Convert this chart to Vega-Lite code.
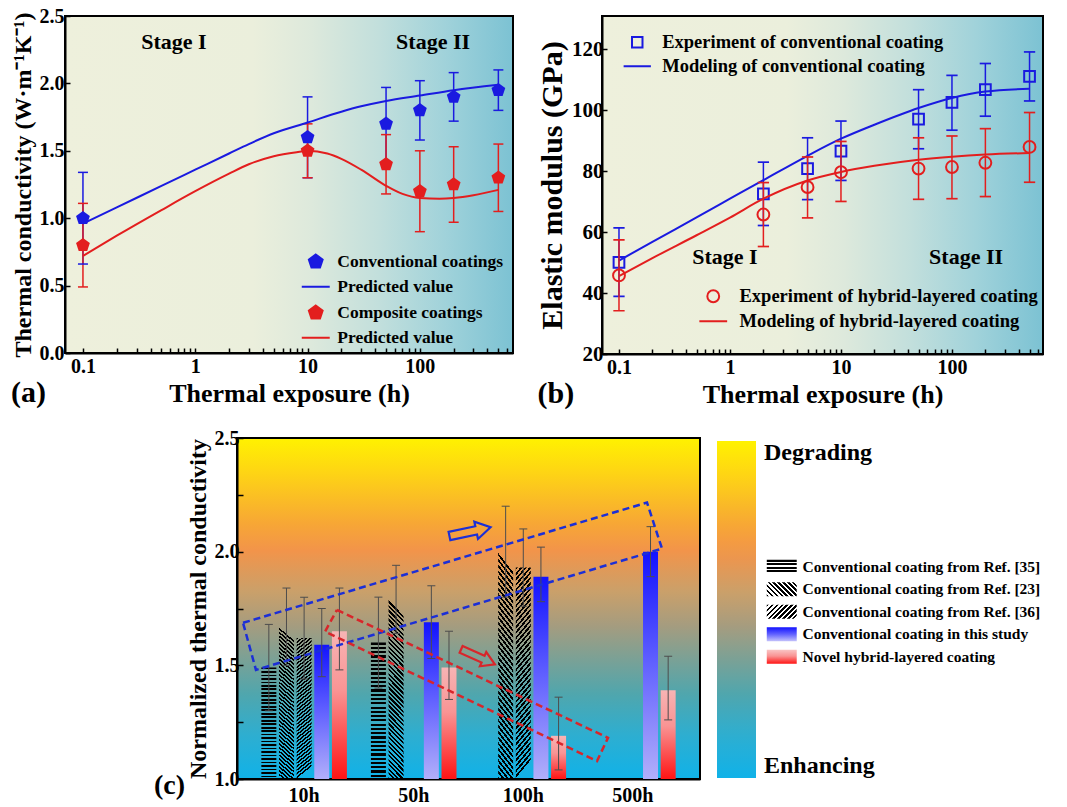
{
"$schema": "https://vega.github.io/schema/vega-lite/v6.json",
"background": "white",
"padding": {"left": 10, "top": 5, "right": 0, "bottom": 0},
"params": [
 {"name": "bgAB", "value": {"gradient":"linear","x1":0,"y1":0,"x2":1,"y2":0,"stops":[{"offset":0,"color":"#eef0dc"},{"offset":0.42,"color":"#ebefdc"},{"offset":0.55,"color":"#dde9dc"},{"offset":0.7,"color":"#c2dfdc"},{"offset":0.85,"color":"#a0d2da"},{"offset":1,"color":"#7cc2d3"}]}},
 {"name": "bgC", "value": {"gradient":"linear","x1":0,"y1":0,"x2":0,"y2":1,"stops":[{"offset":0,"color":"#fff200"},{"offset":0.1,"color":"#fed514"},{"offset":0.25,"color":"#f7a735"},{"offset":0.33,"color":"#f2944a"},{"offset":0.45,"color":"#caa06a"},{"offset":0.55,"color":"#a59c7f"},{"offset":0.65,"color":"#7aa196"},{"offset":0.75,"color":"#50a6ad"},{"offset":0.87,"color":"#2eaed0"},{"offset":1,"color":"#10b2e8"}]}},
 {"name": "g35", "value": {"gradient":"linear","x1":0,"y1":0,"x2":0,"y2":1,"stops":[{"offset":0,"color":"#000"},{"offset":0.0156,"color":"#000"},{"offset":0.0156,"color":"transparent"},{"offset":0.0313,"color":"transparent"},{"offset":0.0313,"color":"#000"},{"offset":0.0469,"color":"#000"},{"offset":0.0469,"color":"transparent"},{"offset":0.0625,"color":"transparent"},{"offset":0.0625,"color":"#000"},{"offset":0.0781,"color":"#000"},{"offset":0.0781,"color":"transparent"},{"offset":0.0938,"color":"transparent"},{"offset":0.0938,"color":"#000"},{"offset":0.1094,"color":"#000"},{"offset":0.1094,"color":"transparent"},{"offset":0.125,"color":"transparent"},{"offset":0.125,"color":"#000"},{"offset":0.1406,"color":"#000"},{"offset":0.1406,"color":"transparent"},{"offset":0.1563,"color":"transparent"},{"offset":0.1563,"color":"#000"},{"offset":0.1719,"color":"#000"},{"offset":0.1719,"color":"transparent"},{"offset":0.1875,"color":"transparent"},{"offset":0.1875,"color":"#000"},{"offset":0.2031,"color":"#000"},{"offset":0.2031,"color":"transparent"},{"offset":0.2188,"color":"transparent"},{"offset":0.2188,"color":"#000"},{"offset":0.2344,"color":"#000"},{"offset":0.2344,"color":"transparent"},{"offset":0.25,"color":"transparent"},{"offset":0.25,"color":"#000"},{"offset":0.2656,"color":"#000"},{"offset":0.2656,"color":"transparent"},{"offset":0.2813,"color":"transparent"},{"offset":0.2813,"color":"#000"},{"offset":0.2969,"color":"#000"},{"offset":0.2969,"color":"transparent"},{"offset":0.3125,"color":"transparent"},{"offset":0.3125,"color":"#000"},{"offset":0.3281,"color":"#000"},{"offset":0.3281,"color":"transparent"},{"offset":0.3438,"color":"transparent"},{"offset":0.3438,"color":"#000"},{"offset":0.3594,"color":"#000"},{"offset":0.3594,"color":"transparent"},{"offset":0.375,"color":"transparent"},{"offset":0.375,"color":"#000"},{"offset":0.3906,"color":"#000"},{"offset":0.3906,"color":"transparent"},{"offset":0.4063,"color":"transparent"},{"offset":0.4063,"color":"#000"},{"offset":0.4219,"color":"#000"},{"offset":0.4219,"color":"transparent"},{"offset":0.4375,"color":"transparent"},{"offset":0.4375,"color":"#000"},{"offset":0.4531,"color":"#000"},{"offset":0.4531,"color":"transparent"},{"offset":0.4688,"color":"transparent"},{"offset":0.4688,"color":"#000"},{"offset":0.4844,"color":"#000"},{"offset":0.4844,"color":"transparent"},{"offset":0.5,"color":"transparent"},{"offset":0.5,"color":"#000"},{"offset":0.5156,"color":"#000"},{"offset":0.5156,"color":"transparent"},{"offset":0.5313,"color":"transparent"},{"offset":0.5313,"color":"#000"},{"offset":0.5469,"color":"#000"},{"offset":0.5469,"color":"transparent"},{"offset":0.5625,"color":"transparent"},{"offset":0.5625,"color":"#000"},{"offset":0.5781,"color":"#000"},{"offset":0.5781,"color":"transparent"},{"offset":0.5938,"color":"transparent"},{"offset":0.5938,"color":"#000"},{"offset":0.6094,"color":"#000"},{"offset":0.6094,"color":"transparent"},{"offset":0.625,"color":"transparent"},{"offset":0.625,"color":"#000"},{"offset":0.6406,"color":"#000"},{"offset":0.6406,"color":"transparent"},{"offset":0.6563,"color":"transparent"},{"offset":0.6563,"color":"#000"},{"offset":0.6719,"color":"#000"},{"offset":0.6719,"color":"transparent"},{"offset":0.6875,"color":"transparent"},{"offset":0.6875,"color":"#000"},{"offset":0.7031,"color":"#000"},{"offset":0.7031,"color":"transparent"},{"offset":0.7188,"color":"transparent"},{"offset":0.7188,"color":"#000"},{"offset":0.7344,"color":"#000"},{"offset":0.7344,"color":"transparent"},{"offset":0.75,"color":"transparent"},{"offset":0.75,"color":"#000"},{"offset":0.7656,"color":"#000"},{"offset":0.7656,"color":"transparent"},{"offset":0.7813,"color":"transparent"},{"offset":0.7813,"color":"#000"},{"offset":0.7969,"color":"#000"},{"offset":0.7969,"color":"transparent"},{"offset":0.8125,"color":"transparent"},{"offset":0.8125,"color":"#000"},{"offset":0.8281,"color":"#000"},{"offset":0.8281,"color":"transparent"},{"offset":0.8438,"color":"transparent"},{"offset":0.8438,"color":"#000"},{"offset":0.8594,"color":"#000"},{"offset":0.8594,"color":"transparent"},{"offset":0.875,"color":"transparent"},{"offset":0.875,"color":"#000"},{"offset":0.8906,"color":"#000"},{"offset":0.8906,"color":"transparent"},{"offset":0.9063,"color":"transparent"},{"offset":0.9063,"color":"#000"},{"offset":0.9219,"color":"#000"},{"offset":0.9219,"color":"transparent"},{"offset":0.9375,"color":"transparent"},{"offset":0.9375,"color":"#000"},{"offset":0.9531,"color":"#000"},{"offset":0.9531,"color":"transparent"},{"offset":0.9688,"color":"transparent"},{"offset":0.9688,"color":"#000"},{"offset":0.9844,"color":"#000"},{"offset":0.9844,"color":"transparent"},{"offset":1,"color":"transparent"}]}},
 {"name": "g23", "value": {"gradient":"linear","x1":0,"y1":1,"x2":0.085,"y2":0,"stops":[{"offset":0,"color":"#000"},{"offset":0.0125,"color":"#000"},{"offset":0.0125,"color":"transparent"},{"offset":0.025,"color":"transparent"},{"offset":0.025,"color":"#000"},{"offset":0.0375,"color":"#000"},{"offset":0.0375,"color":"transparent"},{"offset":0.05,"color":"transparent"},{"offset":0.05,"color":"#000"},{"offset":0.0625,"color":"#000"},{"offset":0.0625,"color":"transparent"},{"offset":0.075,"color":"transparent"},{"offset":0.075,"color":"#000"},{"offset":0.0875,"color":"#000"},{"offset":0.0875,"color":"transparent"},{"offset":0.1,"color":"transparent"},{"offset":0.1,"color":"#000"},{"offset":0.1125,"color":"#000"},{"offset":0.1125,"color":"transparent"},{"offset":0.125,"color":"transparent"},{"offset":0.125,"color":"#000"},{"offset":0.1375,"color":"#000"},{"offset":0.1375,"color":"transparent"},{"offset":0.15,"color":"transparent"},{"offset":0.15,"color":"#000"},{"offset":0.1625,"color":"#000"},{"offset":0.1625,"color":"transparent"},{"offset":0.175,"color":"transparent"},{"offset":0.175,"color":"#000"},{"offset":0.1875,"color":"#000"},{"offset":0.1875,"color":"transparent"},{"offset":0.2,"color":"transparent"},{"offset":0.2,"color":"#000"},{"offset":0.2125,"color":"#000"},{"offset":0.2125,"color":"transparent"},{"offset":0.225,"color":"transparent"},{"offset":0.225,"color":"#000"},{"offset":0.2375,"color":"#000"},{"offset":0.2375,"color":"transparent"},{"offset":0.25,"color":"transparent"},{"offset":0.25,"color":"#000"},{"offset":0.2625,"color":"#000"},{"offset":0.2625,"color":"transparent"},{"offset":0.275,"color":"transparent"},{"offset":0.275,"color":"#000"},{"offset":0.2875,"color":"#000"},{"offset":0.2875,"color":"transparent"},{"offset":0.3,"color":"transparent"},{"offset":0.3,"color":"#000"},{"offset":0.3125,"color":"#000"},{"offset":0.3125,"color":"transparent"},{"offset":0.325,"color":"transparent"},{"offset":0.325,"color":"#000"},{"offset":0.3375,"color":"#000"},{"offset":0.3375,"color":"transparent"},{"offset":0.35,"color":"transparent"},{"offset":0.35,"color":"#000"},{"offset":0.3625,"color":"#000"},{"offset":0.3625,"color":"transparent"},{"offset":0.375,"color":"transparent"},{"offset":0.375,"color":"#000"},{"offset":0.3875,"color":"#000"},{"offset":0.3875,"color":"transparent"},{"offset":0.4,"color":"transparent"},{"offset":0.4,"color":"#000"},{"offset":0.4125,"color":"#000"},{"offset":0.4125,"color":"transparent"},{"offset":0.425,"color":"transparent"},{"offset":0.425,"color":"#000"},{"offset":0.4375,"color":"#000"},{"offset":0.4375,"color":"transparent"},{"offset":0.45,"color":"transparent"},{"offset":0.45,"color":"#000"},{"offset":0.4625,"color":"#000"},{"offset":0.4625,"color":"transparent"},{"offset":0.475,"color":"transparent"},{"offset":0.475,"color":"#000"},{"offset":0.4875,"color":"#000"},{"offset":0.4875,"color":"transparent"},{"offset":0.5,"color":"transparent"},{"offset":0.5,"color":"#000"},{"offset":0.5125,"color":"#000"},{"offset":0.5125,"color":"transparent"},{"offset":0.525,"color":"transparent"},{"offset":0.525,"color":"#000"},{"offset":0.5375,"color":"#000"},{"offset":0.5375,"color":"transparent"},{"offset":0.55,"color":"transparent"},{"offset":0.55,"color":"#000"},{"offset":0.5625,"color":"#000"},{"offset":0.5625,"color":"transparent"},{"offset":0.575,"color":"transparent"},{"offset":0.575,"color":"#000"},{"offset":0.5875,"color":"#000"},{"offset":0.5875,"color":"transparent"},{"offset":0.6,"color":"transparent"},{"offset":0.6,"color":"#000"},{"offset":0.6125,"color":"#000"},{"offset":0.6125,"color":"transparent"},{"offset":0.625,"color":"transparent"},{"offset":0.625,"color":"#000"},{"offset":0.6375,"color":"#000"},{"offset":0.6375,"color":"transparent"},{"offset":0.65,"color":"transparent"},{"offset":0.65,"color":"#000"},{"offset":0.6625,"color":"#000"},{"offset":0.6625,"color":"transparent"},{"offset":0.675,"color":"transparent"},{"offset":0.675,"color":"#000"},{"offset":0.6875,"color":"#000"},{"offset":0.6875,"color":"transparent"},{"offset":0.7,"color":"transparent"},{"offset":0.7,"color":"#000"},{"offset":0.7125,"color":"#000"},{"offset":0.7125,"color":"transparent"},{"offset":0.725,"color":"transparent"},{"offset":0.725,"color":"#000"},{"offset":0.7375,"color":"#000"},{"offset":0.7375,"color":"transparent"},{"offset":0.75,"color":"transparent"},{"offset":0.75,"color":"#000"},{"offset":0.7625,"color":"#000"},{"offset":0.7625,"color":"transparent"},{"offset":0.775,"color":"transparent"},{"offset":0.775,"color":"#000"},{"offset":0.7875,"color":"#000"},{"offset":0.7875,"color":"transparent"},{"offset":0.8,"color":"transparent"},{"offset":0.8,"color":"#000"},{"offset":0.8125,"color":"#000"},{"offset":0.8125,"color":"transparent"},{"offset":0.825,"color":"transparent"},{"offset":0.825,"color":"#000"},{"offset":0.8375,"color":"#000"},{"offset":0.8375,"color":"transparent"},{"offset":0.85,"color":"transparent"},{"offset":0.85,"color":"#000"},{"offset":0.8625,"color":"#000"},{"offset":0.8625,"color":"transparent"},{"offset":0.875,"color":"transparent"},{"offset":0.875,"color":"#000"},{"offset":0.8875,"color":"#000"},{"offset":0.8875,"color":"transparent"},{"offset":0.9,"color":"transparent"},{"offset":0.9,"color":"#000"},{"offset":0.9125,"color":"#000"},{"offset":0.9125,"color":"transparent"},{"offset":0.925,"color":"transparent"},{"offset":0.925,"color":"#000"},{"offset":0.9375,"color":"#000"},{"offset":0.9375,"color":"transparent"},{"offset":0.95,"color":"transparent"},{"offset":0.95,"color":"#000"},{"offset":0.9625,"color":"#000"},{"offset":0.9625,"color":"transparent"},{"offset":0.975,"color":"transparent"},{"offset":0.975,"color":"#000"},{"offset":0.9875,"color":"#000"},{"offset":0.9875,"color":"transparent"},{"offset":1,"color":"transparent"}]}},
 {"name": "g36", "value": {"gradient":"linear","x1":0,"y1":0,"x2":0.085,"y2":1,"stops":[{"offset":0,"color":"#000"},{"offset":0.0125,"color":"#000"},{"offset":0.0125,"color":"transparent"},{"offset":0.025,"color":"transparent"},{"offset":0.025,"color":"#000"},{"offset":0.0375,"color":"#000"},{"offset":0.0375,"color":"transparent"},{"offset":0.05,"color":"transparent"},{"offset":0.05,"color":"#000"},{"offset":0.0625,"color":"#000"},{"offset":0.0625,"color":"transparent"},{"offset":0.075,"color":"transparent"},{"offset":0.075,"color":"#000"},{"offset":0.0875,"color":"#000"},{"offset":0.0875,"color":"transparent"},{"offset":0.1,"color":"transparent"},{"offset":0.1,"color":"#000"},{"offset":0.1125,"color":"#000"},{"offset":0.1125,"color":"transparent"},{"offset":0.125,"color":"transparent"},{"offset":0.125,"color":"#000"},{"offset":0.1375,"color":"#000"},{"offset":0.1375,"color":"transparent"},{"offset":0.15,"color":"transparent"},{"offset":0.15,"color":"#000"},{"offset":0.1625,"color":"#000"},{"offset":0.1625,"color":"transparent"},{"offset":0.175,"color":"transparent"},{"offset":0.175,"color":"#000"},{"offset":0.1875,"color":"#000"},{"offset":0.1875,"color":"transparent"},{"offset":0.2,"color":"transparent"},{"offset":0.2,"color":"#000"},{"offset":0.2125,"color":"#000"},{"offset":0.2125,"color":"transparent"},{"offset":0.225,"color":"transparent"},{"offset":0.225,"color":"#000"},{"offset":0.2375,"color":"#000"},{"offset":0.2375,"color":"transparent"},{"offset":0.25,"color":"transparent"},{"offset":0.25,"color":"#000"},{"offset":0.2625,"color":"#000"},{"offset":0.2625,"color":"transparent"},{"offset":0.275,"color":"transparent"},{"offset":0.275,"color":"#000"},{"offset":0.2875,"color":"#000"},{"offset":0.2875,"color":"transparent"},{"offset":0.3,"color":"transparent"},{"offset":0.3,"color":"#000"},{"offset":0.3125,"color":"#000"},{"offset":0.3125,"color":"transparent"},{"offset":0.325,"color":"transparent"},{"offset":0.325,"color":"#000"},{"offset":0.3375,"color":"#000"},{"offset":0.3375,"color":"transparent"},{"offset":0.35,"color":"transparent"},{"offset":0.35,"color":"#000"},{"offset":0.3625,"color":"#000"},{"offset":0.3625,"color":"transparent"},{"offset":0.375,"color":"transparent"},{"offset":0.375,"color":"#000"},{"offset":0.3875,"color":"#000"},{"offset":0.3875,"color":"transparent"},{"offset":0.4,"color":"transparent"},{"offset":0.4,"color":"#000"},{"offset":0.4125,"color":"#000"},{"offset":0.4125,"color":"transparent"},{"offset":0.425,"color":"transparent"},{"offset":0.425,"color":"#000"},{"offset":0.4375,"color":"#000"},{"offset":0.4375,"color":"transparent"},{"offset":0.45,"color":"transparent"},{"offset":0.45,"color":"#000"},{"offset":0.4625,"color":"#000"},{"offset":0.4625,"color":"transparent"},{"offset":0.475,"color":"transparent"},{"offset":0.475,"color":"#000"},{"offset":0.4875,"color":"#000"},{"offset":0.4875,"color":"transparent"},{"offset":0.5,"color":"transparent"},{"offset":0.5,"color":"#000"},{"offset":0.5125,"color":"#000"},{"offset":0.5125,"color":"transparent"},{"offset":0.525,"color":"transparent"},{"offset":0.525,"color":"#000"},{"offset":0.5375,"color":"#000"},{"offset":0.5375,"color":"transparent"},{"offset":0.55,"color":"transparent"},{"offset":0.55,"color":"#000"},{"offset":0.5625,"color":"#000"},{"offset":0.5625,"color":"transparent"},{"offset":0.575,"color":"transparent"},{"offset":0.575,"color":"#000"},{"offset":0.5875,"color":"#000"},{"offset":0.5875,"color":"transparent"},{"offset":0.6,"color":"transparent"},{"offset":0.6,"color":"#000"},{"offset":0.6125,"color":"#000"},{"offset":0.6125,"color":"transparent"},{"offset":0.625,"color":"transparent"},{"offset":0.625,"color":"#000"},{"offset":0.6375,"color":"#000"},{"offset":0.6375,"color":"transparent"},{"offset":0.65,"color":"transparent"},{"offset":0.65,"color":"#000"},{"offset":0.6625,"color":"#000"},{"offset":0.6625,"color":"transparent"},{"offset":0.675,"color":"transparent"},{"offset":0.675,"color":"#000"},{"offset":0.6875,"color":"#000"},{"offset":0.6875,"color":"transparent"},{"offset":0.7,"color":"transparent"},{"offset":0.7,"color":"#000"},{"offset":0.7125,"color":"#000"},{"offset":0.7125,"color":"transparent"},{"offset":0.725,"color":"transparent"},{"offset":0.725,"color":"#000"},{"offset":0.7375,"color":"#000"},{"offset":0.7375,"color":"transparent"},{"offset":0.75,"color":"transparent"},{"offset":0.75,"color":"#000"},{"offset":0.7625,"color":"#000"},{"offset":0.7625,"color":"transparent"},{"offset":0.775,"color":"transparent"},{"offset":0.775,"color":"#000"},{"offset":0.7875,"color":"#000"},{"offset":0.7875,"color":"transparent"},{"offset":0.8,"color":"transparent"},{"offset":0.8,"color":"#000"},{"offset":0.8125,"color":"#000"},{"offset":0.8125,"color":"transparent"},{"offset":0.825,"color":"transparent"},{"offset":0.825,"color":"#000"},{"offset":0.8375,"color":"#000"},{"offset":0.8375,"color":"transparent"},{"offset":0.85,"color":"transparent"},{"offset":0.85,"color":"#000"},{"offset":0.8625,"color":"#000"},{"offset":0.8625,"color":"transparent"},{"offset":0.875,"color":"transparent"},{"offset":0.875,"color":"#000"},{"offset":0.8875,"color":"#000"},{"offset":0.8875,"color":"transparent"},{"offset":0.9,"color":"transparent"},{"offset":0.9,"color":"#000"},{"offset":0.9125,"color":"#000"},{"offset":0.9125,"color":"transparent"},{"offset":0.925,"color":"transparent"},{"offset":0.925,"color":"#000"},{"offset":0.9375,"color":"#000"},{"offset":0.9375,"color":"transparent"},{"offset":0.95,"color":"transparent"},{"offset":0.95,"color":"#000"},{"offset":0.9625,"color":"#000"},{"offset":0.9625,"color":"transparent"},{"offset":0.975,"color":"transparent"},{"offset":0.975,"color":"#000"},{"offset":0.9875,"color":"#000"},{"offset":0.9875,"color":"transparent"},{"offset":1,"color":"transparent"}]}},
 {"name": "gBl", "value": {"gradient":"linear","x1":0,"y1":0,"x2":0,"y2":1,"stops":[{"offset":0,"color":"#1212ff"},{"offset":0.5,"color":"#6262ff"},{"offset":1,"color":"#b2affa"}]}},
 {"name": "gRd", "value": {"gradient":"linear","x1":0,"y1":0,"x2":0,"y2":1,"stops":[{"offset":0,"color":"#f7b4b4"},{"offset":0.4,"color":"#f99494"},{"offset":1,"color":"#ff1414"}]}},
 {"name": "g35L", "value": {"gradient":"linear","x1":0,"y1":0,"x2":0,"y2":1,"stops":[{"offset":0,"color":"#000"},{"offset":0.15,"color":"#000"},{"offset":0.15,"color":"transparent"},{"offset":0.25,"color":"transparent"},{"offset":0.25,"color":"#000"},{"offset":0.4,"color":"#000"},{"offset":0.4,"color":"transparent"},{"offset":0.5,"color":"transparent"},{"offset":0.5,"color":"#000"},{"offset":0.65,"color":"#000"},{"offset":0.65,"color":"transparent"},{"offset":0.75,"color":"transparent"},{"offset":0.75,"color":"#000"},{"offset":0.9,"color":"#000"},{"offset":0.9,"color":"transparent"},{"offset":1,"color":"transparent"}]}},
 {"name": "g23L", "value": {"gradient":"linear","x1":0,"y1":1,"x2":1.2,"y2":0.44,"stops":[{"offset":0,"color":"#000"},{"offset":0.0556,"color":"#000"},{"offset":0.0556,"color":"transparent"},{"offset":0.1111,"color":"transparent"},{"offset":0.1111,"color":"#000"},{"offset":0.1667,"color":"#000"},{"offset":0.1667,"color":"transparent"},{"offset":0.2222,"color":"transparent"},{"offset":0.2222,"color":"#000"},{"offset":0.2778,"color":"#000"},{"offset":0.2778,"color":"transparent"},{"offset":0.3333,"color":"transparent"},{"offset":0.3333,"color":"#000"},{"offset":0.3889,"color":"#000"},{"offset":0.3889,"color":"transparent"},{"offset":0.4444,"color":"transparent"},{"offset":0.4444,"color":"#000"},{"offset":0.5,"color":"#000"},{"offset":0.5,"color":"transparent"},{"offset":0.5556,"color":"transparent"},{"offset":0.5556,"color":"#000"},{"offset":0.6111,"color":"#000"},{"offset":0.6111,"color":"transparent"},{"offset":0.6667,"color":"transparent"},{"offset":0.6667,"color":"#000"},{"offset":0.7222,"color":"#000"},{"offset":0.7222,"color":"transparent"},{"offset":0.7778,"color":"transparent"},{"offset":0.7778,"color":"#000"},{"offset":0.8333,"color":"#000"},{"offset":0.8333,"color":"transparent"},{"offset":0.8889,"color":"transparent"},{"offset":0.8889,"color":"#000"},{"offset":0.9444,"color":"#000"},{"offset":0.9444,"color":"transparent"},{"offset":1,"color":"transparent"}]}},
 {"name": "g36L", "value": {"gradient":"linear","x1":0,"y1":0,"x2":1.2,"y2":0.56,"stops":[{"offset":0,"color":"#000"},{"offset":0.0556,"color":"#000"},{"offset":0.0556,"color":"transparent"},{"offset":0.1111,"color":"transparent"},{"offset":0.1111,"color":"#000"},{"offset":0.1667,"color":"#000"},{"offset":0.1667,"color":"transparent"},{"offset":0.2222,"color":"transparent"},{"offset":0.2222,"color":"#000"},{"offset":0.2778,"color":"#000"},{"offset":0.2778,"color":"transparent"},{"offset":0.3333,"color":"transparent"},{"offset":0.3333,"color":"#000"},{"offset":0.3889,"color":"#000"},{"offset":0.3889,"color":"transparent"},{"offset":0.4444,"color":"transparent"},{"offset":0.4444,"color":"#000"},{"offset":0.5,"color":"#000"},{"offset":0.5,"color":"transparent"},{"offset":0.5556,"color":"transparent"},{"offset":0.5556,"color":"#000"},{"offset":0.6111,"color":"#000"},{"offset":0.6111,"color":"transparent"},{"offset":0.6667,"color":"transparent"},{"offset":0.6667,"color":"#000"},{"offset":0.7222,"color":"#000"},{"offset":0.7222,"color":"transparent"},{"offset":0.7778,"color":"transparent"},{"offset":0.7778,"color":"#000"},{"offset":0.8333,"color":"#000"},{"offset":0.8333,"color":"transparent"},{"offset":0.8889,"color":"transparent"},{"offset":0.8889,"color":"#000"},{"offset":0.9444,"color":"#000"},{"offset":0.9444,"color":"transparent"},{"offset":1,"color":"transparent"}]}},
 {"name": "gBlL", "value": {"gradient":"linear","x1":0,"y1":0,"x2":0,"y2":1,"stops":[{"offset":0,"color":"#1212ff"},{"offset":0.5,"color":"#6262ff"},{"offset":1,"color":"#c4c2fb"}]}},
 {"name": "gRdL", "value": {"gradient":"linear","x1":0,"y1":0,"x2":0,"y2":1,"stops":[{"offset":0,"color":"#f9c4c4"},{"offset":0.45,"color":"#f99494"},{"offset":1,"color":"#ff1414"}]}}
],
"config": {
 "font": "Liberation Serif",
 "view": {"stroke": "black", "strokeWidth": 2},
 "axis": {"grid": false, "labelFont": "Liberation Serif", "labelFontWeight": "bold", "labelColor": "black", "titleFont": "Liberation Serif", "titleFontWeight": "bold", "titleColor": "black", "domainColor": "black", "domainWidth": 2, "tickColor": "black", "tickWidth": 1.5, "labelOverlap": false, "labelFlush": false},
 "legend": {"labelFont": "Liberation Serif", "labelFontWeight": "bold", "labelColor": "black", "padding": 0, "labelLimit": 0},
 "title": {"font": "Liberation Serif", "fontWeight": "bold", "color": "black"}
},
"spacing": 17,
"resolve": {"scale": {"color": "independent", "fill": "independent", "stroke": "independent"}, "legend": {"color": "independent", "fill": "independent", "stroke": "independent"}},
"vconcat": [
 {
  "spacing": 22,
  "resolve": {"scale": {"color": "independent"}, "legend": {"color": "independent"}},
  "hconcat": [
   {
    "width": 448, "height": 337,
    "view": {"stroke": "black", "strokeWidth": 2, "fill": {"expr": "bgAB"}},
    "title": {"text": "(a)", "orient": "bottom", "anchor": "start", "frame": "bounds", "offset": -28, "fontSize": 30},
    "layer": [
     {
      "data": {"values": [
       {"t":0.1,"v":1.0,"lo":0.66,"hi":1.34,"series":"Conventional coatings"},
       {"t":10,"v":1.6,"lo":1.3,"hi":1.9,"series":"Conventional coatings"},
       {"t":50,"v":1.7,"lo":1.42,"hi":1.97,"series":"Conventional coatings"},
       {"t":100,"v":1.8,"lo":1.58,"hi":2.02,"series":"Conventional coatings"},
       {"t":200,"v":1.9,"lo":1.72,"hi":2.08,"series":"Conventional coatings"},
       {"t":500,"v":1.95,"lo":1.8,"hi":2.1,"series":"Conventional coatings"},
       {"t":0.1,"v":0.8,"lo":0.49,"hi":1.11,"series":"Composite coatings"},
       {"t":10,"v":1.5,"lo":1.3,"hi":1.7,"series":"Composite coatings"},
       {"t":50,"v":1.4,"lo":1.18,"hi":1.62,"series":"Composite coatings"},
       {"t":100,"v":1.2,"lo":0.9,"hi":1.5,"series":"Composite coatings"},
       {"t":200,"v":1.25,"lo":0.97,"hi":1.53,"series":"Composite coatings"},
       {"t":500,"v":1.3,"lo":1.05,"hi":1.55,"series":"Composite coatings"}
      ]},
      "layer": [
       {"mark": {"type": "rule", "strokeWidth": 1.5},
        "encoding": {
         "x": {"field": "t", "type": "quantitative", "scale": {"type": "log", "domain": [0.0692, 675], "nice": false}, "title": "Thermal exposure (h)",
               "axis": {"values": [0.1,0.2,0.3,0.4,0.5,0.6,0.7,0.8,0.9,1,2,3,4,5,6,7,8,9,10,20,30,40,50,60,70,80,90,100,200,300,400,500,600], "labelExpr": "datum.value==0.1?'0.1':datum.value==1?'1':datum.value==10?'10':datum.value==100?'100':''", "tickSize": -5, "labelFontSize": 20, "titleFontSize": 26, "labelPadding": 8, "titlePadding": 4}},
         "y": {"field": "lo", "type": "quantitative", "scale": {"domain": [0, 2.5], "nice": false}, "title": "Thermal conductivity (W·m⁻¹K⁻¹)",
               "axis": {"values": [0,0.25,0.5,0.75,1,1.25,1.5,1.75,2,2.25,2.5], "format": ".1f", "labelExpr": "round(datum.value*100)%50==0 ? datum.label : ''", "tickSize": -5, "labelFontSize": 20, "titleFontSize": 24, "labelPadding": 6, "titlePadding": 4}},
         "y2": {"field": "hi"},
         "color": {"field": "series", "type": "nominal", "scale": {"domain": ["Conventional coatings","Predicted value (conventional)","Composite coatings","Predicted value (composite)"], "range": ["#1a1ae0","#1a1ae0","#e31e1e","#e31e1e"]}}
        }},
       {"mark": {"type": "tick", "orient": "horizontal", "size": 10, "thickness": 1.5, "opacity": 1},
        "encoding": {
         "x": {"field": "t", "type": "quantitative", "scale": {"type": "log"}},
         "y": {"field": "lo", "type": "quantitative"},
         "color": {"field": "series", "type": "nominal"}
        }},
       {"mark": {"type": "tick", "orient": "horizontal", "size": 10, "thickness": 1.5, "opacity": 1},
        "encoding": {
         "x": {"field": "t", "type": "quantitative", "scale": {"type": "log"}},
         "y": {"field": "hi", "type": "quantitative"},
         "color": {"field": "series", "type": "nominal"}
        }}
      ]
     },
     {
      "data": {"values": [
       {"t":0.1,"v":0.96,"series":"Predicted value (conventional)"},
       {"t":0.2,"v":1.08,"series":"Predicted value (conventional)"},
       {"t":0.5,"v":1.24,"series":"Predicted value (conventional)"},
       {"t":1,"v":1.36,"series":"Predicted value (conventional)"},
       {"t":2,"v":1.48,"series":"Predicted value (conventional)"},
       {"t":3,"v":1.55,"series":"Predicted value (conventional)"},
       {"t":5,"v":1.63,"series":"Predicted value (conventional)"},
       {"t":10,"v":1.71,"series":"Predicted value (conventional)"},
       {"t":20,"v":1.79,"series":"Predicted value (conventional)"},
       {"t":30,"v":1.83,"series":"Predicted value (conventional)"},
       {"t":50,"v":1.87,"series":"Predicted value (conventional)"},
       {"t":100,"v":1.91,"series":"Predicted value (conventional)"},
       {"t":200,"v":1.95,"series":"Predicted value (conventional)"},
       {"t":500,"v":1.99,"series":"Predicted value (conventional)"},
       {"t":0.1,"v":0.72,"series":"Predicted value (composite)"},
       {"t":0.2,"v":0.87,"series":"Predicted value (composite)"},
       {"t":0.5,"v":1.06,"series":"Predicted value (composite)"},
       {"t":1,"v":1.2,"series":"Predicted value (composite)"},
       {"t":2,"v":1.33,"series":"Predicted value (composite)"},
       {"t":3,"v":1.4,"series":"Predicted value (composite)"},
       {"t":5,"v":1.46,"series":"Predicted value (composite)"},
       {"t":8,"v":1.49,"series":"Predicted value (composite)"},
       {"t":10,"v":1.5,"series":"Predicted value (composite)"},
       {"t":15,"v":1.48,"series":"Predicted value (composite)"},
       {"t":20,"v":1.44,"series":"Predicted value (composite)"},
       {"t":30,"v":1.36,"series":"Predicted value (composite)"},
       {"t":50,"v":1.24,"series":"Predicted value (composite)"},
       {"t":70,"v":1.18,"series":"Predicted value (composite)"},
       {"t":100,"v":1.15,"series":"Predicted value (composite)"},
       {"t":150,"v":1.145,"series":"Predicted value (composite)"},
       {"t":200,"v":1.15,"series":"Predicted value (composite)"},
       {"t":300,"v":1.17,"series":"Predicted value (composite)"},
       {"t":500,"v":1.21,"series":"Predicted value (composite)"}
      ]},
      "mark": {"type": "line", "interpolate": "monotone", "strokeWidth": 2},
      "encoding": {
       "x": {"field": "t", "type": "quantitative", "scale": {"type": "log"}},
       "y": {"field": "v", "type": "quantitative"},
       "color": {"field": "series", "type": "nominal"}
      }
     },
     {
      "data": {"values": [
       {"t":0.1,"v":1.0,"series":"Conventional coatings"},
       {"t":10,"v":1.6,"series":"Conventional coatings"},
       {"t":50,"v":1.7,"series":"Conventional coatings"},
       {"t":100,"v":1.8,"series":"Conventional coatings"},
       {"t":200,"v":1.9,"series":"Conventional coatings"},
       {"t":500,"v":1.95,"series":"Conventional coatings"},
       {"t":0.1,"v":0.8,"series":"Composite coatings"},
       {"t":10,"v":1.5,"series":"Composite coatings"},
       {"t":50,"v":1.4,"series":"Composite coatings"},
       {"t":100,"v":1.2,"series":"Composite coatings"},
       {"t":200,"v":1.25,"series":"Composite coatings"},
       {"t":500,"v":1.3,"series":"Composite coatings"}
      ]},
      "mark": {"type": "point", "shape": "M0,-1L0.951,-0.309L0.588,0.809L-0.588,0.809L-0.951,-0.309Z", "filled": true, "size": 210, "opacity": 1},
      "encoding": {
       "x": {"field": "t", "type": "quantitative", "scale": {"type": "log"}},
       "y": {"field": "v", "type": "quantitative"},
       "color": {"field": "series", "type": "nominal",
        "legend": {"orient": "none", "legendX": 242, "legendY": 237, "title": null, "labelFontSize": 17.5, "symbolSize": 210, "labelOffset": 12.75, "rowPadding": 5,
         "labelExpr": "indexof(datum.label,'Predicted')>=0 ? 'Predicted value' : datum.label",
         "symbolType": {"expr": "indexof(datum.value,'Predicted')>=0 ? 'M-1.93,0L1.93,0' : 'M0,-1L0.951,-0.309L0.588,0.809L-0.588,0.809L-0.951,-0.309Z'"},
         "symbolStrokeColor": {"expr": "(datum.value=='Conventional coatings'||datum.value=='Predicted value (conventional)') ? '#1a1ae0' : '#e31e1e'"},
         "symbolStrokeWidth": 2, "symbolOpacity": 1}}
      }
     },
     {
      "data": {"values": [{"t":0.646,"v":2.31,"label":"Stage I"},{"t":131,"v":2.31,"label":"Stage II"}]},
      "mark": {"type": "text", "fontSize": 22, "fontWeight": "bold", "font": "Liberation Serif", "color": "black"},
      "encoding": {
       "x": {"field": "t", "type": "quantitative", "scale": {"type": "log"}},
       "y": {"field": "v", "type": "quantitative"},
       "text": {"field": "label"}
      }
     }
    ]
   },
   {
    "width": 441, "height": 338,
    "view": {"stroke": "black", "strokeWidth": 2, "fill": {"expr": "bgAB"}},
    "title": {"text": "(b)", "orient": "bottom", "anchor": "start", "frame": "bounds", "offset": -28, "fontSize": 30},
    "resolve": {"scale": {"color": "independent"}, "legend": {"color": "independent"}},
    "layer": [
     {
      "layer": [
       {
        "data": {"values": [
         {"t":0.1,"v":50.1,"lo":38.9,"hi":61.4,"series":"Experiment of conventional coating"},
         {"t":2,"v":72.6,"lo":62.2,"hi":83.0,"series":"Experiment of conventional coating"},
         {"t":5,"v":80.9,"lo":70.7,"hi":91.0,"series":"Experiment of conventional coating"},
         {"t":10,"v":86.6,"lo":77.0,"hi":96.5,"series":"Experiment of conventional coating"},
         {"t":50,"v":97.1,"lo":87.4,"hi":106.8,"series":"Experiment of conventional coating"},
         {"t":100,"v":102.6,"lo":93.5,"hi":111.5,"series":"Experiment of conventional coating"},
         {"t":200,"v":106.8,"lo":98.1,"hi":115.4,"series":"Experiment of conventional coating"},
         {"t":500,"v":111.2,"lo":103.1,"hi":119.2,"series":"Experiment of conventional coating"}
        ]},
        "layer": [
         {"mark": {"type": "rule", "strokeWidth": 1.5},
          "encoding": {
           "x": {"field": "t", "type": "quantitative", "scale": {"type": "log", "domain": [0.0703, 661], "nice": false}, "title": "Thermal exposure (h)",
                 "axis": {"values": [0.1,0.2,0.3,0.4,0.5,0.6,0.7,0.8,0.9,1,2,3,4,5,6,7,8,9,10,20,30,40,50,60,70,80,90,100,200,300,400,500,600], "labelExpr": "datum.value==0.1?'0.1':datum.value==1?'1':datum.value==10?'10':datum.value==100?'100':''", "tickSize": -5, "labelFontSize": 20, "titleFontSize": 26, "labelPadding": 8, "titlePadding": 4}},
           "y": {"field": "lo", "type": "quantitative", "scale": {"domain": [20, 131], "nice": false, "zero": false}, "title": "Elastic modulus (GPa)",
                 "axis": {"values": [20,30,40,50,60,70,80,90,100,110,120,131], "labelExpr": "datum.value==131 ? ' ' : (datum.value%20==0 ? datum.label : '')", "tickSize": -5, "labelFontSize": 21, "titleFontSize": 30, "labelPadding": 4, "titlePadding": 4}},
           "y2": {"field": "hi"},
           "color": {"field": "series", "type": "nominal", "scale": {"domain": ["Experiment of conventional coating","Modeling of conventional coating"], "range": ["#1a1ae0","#1a1ae0"]}}
          }},
         {"mark": {"type": "tick", "orient": "horizontal", "size": 10, "thickness": 0.4, "filled": false, "strokeWidth": 1.3, "opacity": 1},
          "encoding": {
           "x": {"field": "t", "type": "quantitative", "scale": {"type": "log"}},
           "y": {"field": "lo", "type": "quantitative"},
           "color": {"field": "series", "type": "nominal"}
          }},
         {"mark": {"type": "tick", "orient": "horizontal", "size": 10, "thickness": 0.4, "filled": false, "strokeWidth": 1.3, "opacity": 1},
          "encoding": {
           "x": {"field": "t", "type": "quantitative", "scale": {"type": "log"}},
           "y": {"field": "hi", "type": "quantitative"},
           "color": {"field": "series", "type": "nominal"}
          }},
         {"mark": {"type": "point", "shape": "square", "filled": false, "size": 115, "strokeWidth": 2, "opacity": 1},
          "encoding": {
           "x": {"field": "t", "type": "quantitative", "scale": {"type": "log"}},
           "y": {"field": "v", "type": "quantitative"},
           "color": {"field": "series", "type": "nominal",
            "legend": {"orient": "none", "legendX": 26, "legendY": 17, "title": null, "labelFontSize": 18.5, "symbolSize": 110, "labelOffset": 15.7, "rowPadding": 5,
             "symbolType": {"expr": "indexof(datum.value,'Modeling')>=0 ? 'M-2.6,0L2.6,0' : 'square'"},
             "symbolFillColor": "transparent", "symbolStrokeWidth": 2, "symbolOpacity": 1}}
          }}
        ]
       },
       {
        "data": {"values": [
         {"t":0.1,"v":50.7,"series":"Modeling of conventional coating"},
         {"t":0.2,"v":56.8,"series":"Modeling of conventional coating"},
         {"t":0.5,"v":64.9,"series":"Modeling of conventional coating"},
         {"t":1,"v":71.0,"series":"Modeling of conventional coating"},
         {"t":2,"v":77.1,"series":"Modeling of conventional coating"},
         {"t":5,"v":85.1,"series":"Modeling of conventional coating"},
         {"t":10,"v":90.7,"series":"Modeling of conventional coating"},
         {"t":20,"v":95.3,"series":"Modeling of conventional coating"},
         {"t":50,"v":100.8,"series":"Modeling of conventional coating"},
         {"t":100,"v":104.1,"series":"Modeling of conventional coating"},
         {"t":200,"v":106.2,"series":"Modeling of conventional coating"},
         {"t":500,"v":107.1,"series":"Modeling of conventional coating"}
        ]},
        "mark": {"type": "line", "interpolate": "monotone", "strokeWidth": 2},
        "encoding": {
         "x": {"field": "t", "type": "quantitative", "scale": {"type": "log"}},
         "y": {"field": "v", "type": "quantitative"},
         "color": {"field": "series", "type": "nominal"}
        }
       }
      ]
     },
     {
      "layer": [
       {
        "data": {"values": [
         {"t":0.1,"v":45.8,"lo":34.2,"hi":57.5,"series":"Experiment of hybrid-layered coating"},
         {"t":2,"v":65.8,"lo":55.3,"hi":76.3,"series":"Experiment of hybrid-layered coating"},
         {"t":5,"v":74.8,"lo":64.7,"hi":84.7,"series":"Experiment of hybrid-layered coating"},
         {"t":10,"v":79.7,"lo":70.1,"hi":89.8,"series":"Experiment of hybrid-layered coating"},
         {"t":50,"v":80.9,"lo":70.8,"hi":91.0,"series":"Experiment of hybrid-layered coating"},
         {"t":100,"v":81.4,"lo":71.0,"hi":91.6,"series":"Experiment of hybrid-layered coating"},
         {"t":200,"v":82.8,"lo":71.7,"hi":94.0,"series":"Experiment of hybrid-layered coating"},
         {"t":500,"v":88.0,"lo":76.4,"hi":99.3,"series":"Experiment of hybrid-layered coating"}
        ]},
        "layer": [
         {"mark": {"type": "rule", "strokeWidth": 1.5},
          "encoding": {
           "x": {"field": "t", "type": "quantitative", "scale": {"type": "log"}},
           "y": {"field": "lo", "type": "quantitative"},
           "y2": {"field": "hi"},
           "color": {"field": "series", "type": "nominal", "scale": {"domain": ["Experiment of hybrid-layered coating","Modeling of hybrid-layered coating"], "range": ["#e31e1e","#e31e1e"]}}
          }},
         {"mark": {"type": "tick", "orient": "horizontal", "size": 10, "thickness": 0.4, "filled": false, "strokeWidth": 1.3, "opacity": 1},
          "encoding": {
           "x": {"field": "t", "type": "quantitative", "scale": {"type": "log"}},
           "y": {"field": "lo", "type": "quantitative"},
           "color": {"field": "series", "type": "nominal"}
          }},
         {"mark": {"type": "tick", "orient": "horizontal", "size": 10, "thickness": 0.4, "filled": false, "strokeWidth": 1.3, "opacity": 1},
          "encoding": {
           "x": {"field": "t", "type": "quantitative", "scale": {"type": "log"}},
           "y": {"field": "hi", "type": "quantitative"},
           "color": {"field": "series", "type": "nominal"}
          }},
         {"mark": {"type": "point", "shape": "circle", "filled": false, "size": 140, "strokeWidth": 2, "opacity": 1},
          "encoding": {
           "x": {"field": "t", "type": "quantitative", "scale": {"type": "log"}},
           "y": {"field": "v", "type": "quantitative"},
           "color": {"field": "series", "type": "nominal",
            "legend": {"orient": "none", "legendX": 102, "legendY": 271, "title": null, "labelFontSize": 18.5, "symbolSize": 140, "labelOffset": 17, "rowPadding": 5,
             "symbolType": {"expr": "indexof(datum.value,'Modeling')>=0 ? 'M-2.35,0L2.35,0' : 'circle'"},
             "symbolFillColor": "transparent", "symbolStrokeWidth": 2, "symbolOpacity": 1}}
          }}
        ]
       },
       {
        "data": {"values": [
         {"t":0.1,"v":45.6,"series":"Modeling of hybrid-layered coating"},
         {"t":0.2,"v":51.5,"series":"Modeling of hybrid-layered coating"},
         {"t":0.5,"v":59.0,"series":"Modeling of hybrid-layered coating"},
         {"t":1,"v":64.8,"series":"Modeling of hybrid-layered coating"},
         {"t":2,"v":71.0,"series":"Modeling of hybrid-layered coating"},
         {"t":5,"v":77.0,"series":"Modeling of hybrid-layered coating"},
         {"t":10,"v":79.8,"series":"Modeling of hybrid-layered coating"},
         {"t":20,"v":81.8,"series":"Modeling of hybrid-layered coating"},
         {"t":50,"v":83.8,"series":"Modeling of hybrid-layered coating"},
         {"t":100,"v":84.8,"series":"Modeling of hybrid-layered coating"},
         {"t":200,"v":85.5,"series":"Modeling of hybrid-layered coating"},
         {"t":500,"v":86.0,"series":"Modeling of hybrid-layered coating"}
        ]},
        "mark": {"type": "line", "interpolate": "monotone", "strokeWidth": 2},
        "encoding": {
         "x": {"field": "t", "type": "quantitative", "scale": {"type": "log"}},
         "y": {"field": "v", "type": "quantitative"},
         "color": {"field": "series", "type": "nominal"}
        }
       }
      ]
     },
     {
      "data": {"values": [{"t":0.9,"v":51.7,"label":"Stage I"},{"t":134,"v":51.7,"label":"Stage II"}]},
      "mark": {"type": "text", "fontSize": 22, "fontWeight": "bold", "font": "Liberation Serif", "color": "black"},
      "encoding": {
       "x": {"field": "t", "type": "quantitative", "scale": {"type": "log"}},
       "y": {"field": "v", "type": "quantitative"},
       "text": {"field": "label"}
      }
     }
    ]
   }
  ]
 },
 {
  "spacing": 0,
  "resolve": {"scale": {"color": "independent", "fill": "independent", "stroke": "independent"}, "legend": {"color": "independent", "fill": "independent", "stroke": "independent"}},
  "hconcat": [
   {"width": 120, "height": 351, "view": {"stroke": null},
    "title": {"text": "(c)", "orient": "bottom", "anchor": "end", "frame": "group", "offset": -17, "fontSize": 28},
    "data": {"values": [{"k": 0}]}, "mark": {"type": "point", "opacity": 0}, "encoding": {}},
   {
    "width": 463, "height": 341,
    "view": {"stroke": "black", "strokeWidth": 2, "fill": {"expr": "bgC"}},
    "resolve": {"scale": {"x": "independent", "fill": "independent", "stroke": "independent"}, "legend": {"fill": "independent", "stroke": "independent"}},
    "layer": [
     {
      "data": {"values": [
       {"time":"10h","series":"Conventional coating from Ref. [35]","v":1.49,"lo":1.30,"hi":1.68},
       {"time":"10h","series":"Conventional coating from Ref. [23]","v":1.67,"lo":1.50,"hi":1.84},
       {"time":"10h","series":"Conventional coating from Ref. [36]","v":1.62,"lo":1.44,"hi":1.80},
       {"time":"10h","series":"Conventional coating in this study","v":1.59,"lo":1.45,"hi":1.75},
       {"time":"10h","series":"Novel hybrid-layered coating","v":1.65,"lo":1.48,"hi":1.84},
       {"time":"50h","series":"Conventional coating from Ref. [35]","v":1.60,"lo":1.40,"hi":1.80},
       {"time":"50h","series":"Conventional coating from Ref. [23]","v":1.79,"lo":1.64,"hi":1.94},
       {"time":"50h","series":"Conventional coating in this study","v":1.69,"lo":1.53,"hi":1.85},
       {"time":"50h","series":"Novel hybrid-layered coating","v":1.49,"lo":1.35,"hi":1.65},
       {"time":"100h","series":"Conventional coating from Ref. [23]","v":2.00,"lo":1.80,"hi":2.20},
       {"time":"100h","series":"Conventional coating from Ref. [36]","v":1.93,"lo":1.76,"hi":2.10},
       {"time":"100h","series":"Conventional coating in this study","v":1.89,"lo":1.78,"hi":2.02},
       {"time":"100h","series":"Novel hybrid-layered coating","v":1.19,"lo":1.04,"hi":1.36},
       {"time":"500h","series":"Conventional coating in this study","v":2.00,"lo":1.89,"hi":2.11},
       {"time":"500h","series":"Novel hybrid-layered coating","v":1.39,"lo":1.26,"hi":1.54}
      ]},
      "layer": [
       {"mark": {"type": "bar"},
        "encoding": {
         "x": {"field": "time", "type": "nominal", "sort": ["10h","50h","100h","500h"], "scale": {"paddingInner": 0.195, "paddingOuter": 0.21}, "title": null, "axis": {"title": null, "labelFontSize": 20, "ticks": false, "labelPadding": 6, "labelAngle": 0}},
         "xOffset": {"field": "series", "type": "nominal", "scale": {"domain": ["Conventional coating from Ref. [35]","Conventional coating from Ref. [23]","Conventional coating from Ref. [36]","Conventional coating in this study","Novel hybrid-layered coating"], "paddingInner": 0.15, "paddingOuter": 0.075}},
         "y": {"field": "v", "type": "quantitative", "scale": {"domain": [1, 2.5], "nice": false, "zero": false}, "title": "Normalized thermal conductivity",
               "axis": {"values": [1,1.25,1.5,1.75,2,2.25,2.5], "format": ".1f", "labelExpr": "round(datum.value*100)%50==0 ? datum.label : ''", "tickSize": -6, "labelFontSize": 20, "titleFontSize": 24, "labelPadding": 4, "titlePadding": 4}},
         "y2": {"datum": 1},
         "fill": {"field": "series", "type": "nominal", "legend": null,
          "scale": {"domain": ["Conventional coating from Ref. [35]","Conventional coating from Ref. [23]","Conventional coating from Ref. [36]","Conventional coating in this study","Novel hybrid-layered coating"],
           "range": [{"expr": "g35"}, {"expr": "g23"}, {"expr": "g36"}, {"expr": "gBl"}, {"expr": "gRd"}]}}
        }},
       {"mark": {"type": "rule", "color": "#4d4d4d", "strokeWidth": 1},
        "encoding": {
         "x": {"field": "time", "type": "nominal", "sort": ["10h","50h","100h","500h"], "title": null},
         "xOffset": {"field": "series", "type": "nominal"},
         "y": {"field": "lo", "type": "quantitative"},
         "y2": {"field": "hi"}
        }},
       {"mark": {"type": "tick", "orient": "horizontal", "color": "#4d4d4d", "size": 8, "thickness": 1, "opacity": 1},
        "encoding": {
         "x": {"field": "time", "type": "nominal", "sort": ["10h","50h","100h","500h"], "title": null},
         "xOffset": {"field": "series", "type": "nominal"},
         "y": {"field": "hi", "type": "quantitative"}
        }},
       {"mark": {"type": "tick", "orient": "horizontal", "color": "#4d4d4d", "size": 8, "thickness": 1, "opacity": 1},
        "encoding": {
         "x": {"field": "time", "type": "nominal", "sort": ["10h","50h","100h","500h"], "title": null},
         "xOffset": {"field": "series", "type": "nominal"},
         "y": {"field": "lo", "type": "quantitative"}
        }}
      ]
     },
     {
      "layer": [
       {
        "data": {"values": [
         {"box":"Conventional trend","ord":1,"gx":-0.555,"gy":1.687},
         {"box":"Conventional trend","ord":2,"gx":3.131,"gy":2.216},
         {"box":"Conventional trend","ord":3,"gx":3.268,"gy":2.013},
         {"box":"Conventional trend","ord":4,"gx":-0.437,"gy":1.48},
         {"box":"Conventional trend","ord":5,"gx":-0.555,"gy":1.687},
         {"box":"Hybrid trend","ord":1,"gx":0.302,"gy":1.744},
         {"box":"Hybrid trend","ord":2,"gx":2.775,"gy":1.181},
         {"box":"Hybrid trend","ord":3,"gx":2.675,"gy":1.079},
         {"box":"Hybrid trend","ord":4,"gx":0.193,"gy":1.648},
         {"box":"Hybrid trend","ord":5,"gx":0.302,"gy":1.744}
        ]},
        "mark": {"type": "line", "strokeDash": [7, 4], "strokeWidth": 2.5},
        "encoding": {
         "x": {"field": "gx", "type": "quantitative", "scale": {"domain": [-0.61, 3.6145], "nice": false, "zero": false}, "axis": null},
         "y": {"field": "gy", "type": "quantitative", "scale": {"domain": [1, 2.5], "nice": false, "zero": false}},
         "order": {"field": "ord", "type": "quantitative"},
         "stroke": {"field": "box", "type": "nominal", "scale": {"domain": ["Conventional trend","Hybrid trend"], "range": ["#1c2fd6","#d8262b"]}, "legend": null}
        }
       },
       {
        "data": {"values": [{"box":"Conventional trend","gx":1.516,"gy":2.088}]},
        "mark": {"type": "point", "shape": "M-1,-0.2L0.3,-0.2L0.3,-0.42L1,0L0.3,0.42L0.3,0.2L-1,0.2Z", "size": 1764, "angle": -12, "filled": false, "strokeWidth": 2.2, "opacity": 1},
        "encoding": {
         "x": {"field": "gx", "type": "quantitative", "scale": {"domain": [-0.61, 3.6145], "nice": false, "zero": false}, "axis": null},
         "y": {"field": "gy", "type": "quantitative"},
         "stroke": {"field": "box", "type": "nominal", "legend": null}
        }
       },
       {
        "data": {"values": [{"box":"Hybrid trend","gx":1.589,"gy":1.537}]},
        "mark": {"type": "point", "shape": "M-1,-0.2L0.3,-0.2L0.3,-0.42L1,0L0.3,0.42L0.3,0.2L-1,0.2Z", "size": 1369, "angle": 24, "filled": false, "strokeWidth": 2.2, "opacity": 1},
        "encoding": {
         "x": {"field": "gx", "type": "quantitative", "scale": {"domain": [-0.61, 3.6145], "nice": false, "zero": false}, "axis": null},
         "y": {"field": "gy", "type": "quantitative"},
         "stroke": {"field": "box", "type": "nominal", "legend": null}
        }
       }
      ]
     },
     {
      "data": {"values": [
       {"series":"Conventional coating from Ref. [35]"},
       {"series":"Conventional coating from Ref. [23]"},
       {"series":"Conventional coating from Ref. [36]"},
       {"series":"Conventional coating in this study"},
       {"series":"Novel hybrid-layered coating"}
      ]},
      "mark": {"type": "point", "filled": true, "size": 0},
      "encoding": {
       "fill": {"field": "series", "type": "nominal",
        "scale": {"domain": ["Conventional coating from Ref. [35]","Conventional coating from Ref. [23]","Conventional coating from Ref. [36]","Conventional coating in this study","Novel hybrid-layered coating"],
         "range": [{"expr": "g35L"}, {"expr": "g23L"}, {"expr": "g36L"}, {"expr": "gBlL"}, {"expr": "gRdL"}]},
        "legend": {"orient": "none", "legendX": 537, "legendY": 121, "title": null, "labelFontSize": 15.5, "symbolSize": 196, "labelOffset": 13, "rowPadding": 5.5, "symbolType": "M-2.14,-1H2.14V1H-2.14Z", "symbolStrokeWidth": 0, "symbolOpacity": 1}
       }
      }
     },
     {
      "data": {"values": [{"level": 0}, {"level": 1}]},
      "mark": {"type": "point", "size": 0, "strokeOpacity": 0, "fillOpacity": 0, "strokeWidth": 0},
      "encoding": {
       "color": {"field": "level", "type": "quantitative",
        "scale": {"domain": [0,0.13,0.25,0.35,0.45,0.55,0.67,0.75,0.9,1], "range": ["#10b2e8","#2eaed0","#50a6ad","#7aa196","#a59c7f","#caa06a","#f2944a","#f7a735","#fed514","#fff200"], "interpolate": "rgb"},
        "legend": {"type": "gradient", "direction": "vertical", "orient": "none", "legendX": 480, "legendY": 3, "gradientLength": 337, "gradientThickness": 39, "gradientStrokeWidth": 0, "values": [0, 1], "labelExpr": "datum.value > 0.5 ? 'Degrading' : 'Enhancing'", "labelFontSize": 24, "labelOffset": 8, "title": null, "labelOverlap": false}
       }
      }
     }
    ]
   }
  ]
 }
]
}
